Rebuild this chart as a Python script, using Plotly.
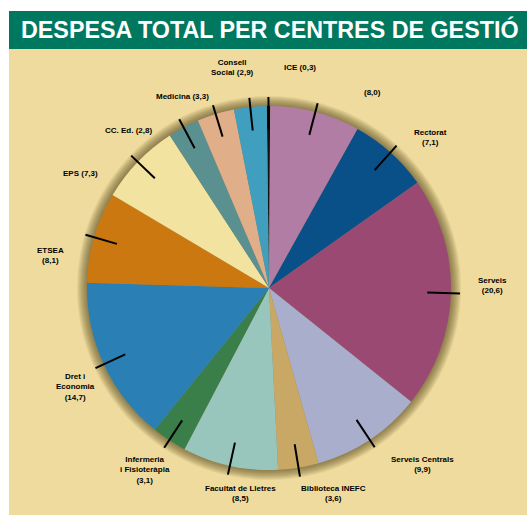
import math
import plotly.graph_objects as go

# ---------------- data ----------------
centres = ["ICE", "Rectorat", "Gerència", "Serveis Centrals", "Biblioteca",
           "INEFC", "Facultat de Lletres", "Infermeria",
           "Facultat de Dret i Economia", "ETSEA", "EPS", "Ciències Educació",
           "Medicina", "Consell Social"]
share = [0.3, 8.0, 7.1, 20.6, 9.9, 3.6, 8.5, 3.1, 14.7, 8.1, 7.3, 2.8, 3.3, 2.9]
label_lines = [
    ["ICE (0,3)"],
    ["(8,0)"],
    ["Rectorat", "(7,1)"],
    ["Serveis", "(20,6)"],
    ["Serveis Centrals", "(9,9)"],
    ["Biblioteca INEFC", "(3,6)"],
    ["Facultat de Lletres", "(8,5)"],
    ["Infermeria", "i Fisioteràpia", "(3,1)"],
    ["Dret i", "Economia", "(14,7)"],
    ["ETSEA", "(8,1)"],
    ["EPS (7,3)"],
    ["CC. Ed. (2,8)"],
    ["Medicina (3,3)"],
    ["Consell", "Social (2,9)"],
]

# ---------------- style ----------------
W, H = 527, 515
colors = ["#111111", "#B27DA5", "#0A5088", "#9A4A72", "#A8AECC", "#C8A864",
          "#98C5BC", "#3A7E4A", "#2A80B4", "#CC7810", "#F2E3A0", "#5A9090",
          "#E0AE88", "#409EBE"]
BG = "#EEDB9D"
HEADER = "#00775F"
CX, CY, R = 269, 288, 182
ROT = -0.7
# label anchor points (pixels) for the text blocks
LABEL_POS = [(300, 68), (372, 92), (430, 138), (492, 285), (422, 464),
             (333, 493), (240, 493), (145, 470), (75, 387), (50, 255),
             (80, 173), (128, 130), (182, 97), (232, 68)]


def px(x):
    return x / W


def py(y):
    return 1 - y / H


fig = go.Figure()
fig.add_trace(go.Pie(
    labels=centres, values=share, sort=False, direction="clockwise",
    rotation=ROT, marker=dict(colors=colors, line=dict(width=0)),
    textinfo="none", hoverinfo="label+percent", showlegend=False,
    domain=dict(x=[px(CX - R), px(CX + R)], y=[py(CY + R), py(CY - R)]),
))

shapes = [
    dict(type="rect", xref="paper", yref="paper", x0=px(9), x1=1, y0=0, y1=py(49),
         fillcolor=BG, line=dict(width=0), layer="below"),
    dict(type="rect", xref="paper", yref="paper", x0=px(9), x1=1, y0=py(49), y1=py(11),
         fillcolor=HEADER, line=dict(width=0), layer="below"),
]
# soft halo around the pie
for k in range(10, 0, -1):
    rr = R + k
    shapes.append(dict(type="circle", xref="paper", yref="paper",
                       x0=px(CX - rr), x1=px(CX + rr), y0=py(CY + rr), y1=py(CY - rr),
                       fillcolor="rgba(70,52,20,0.07)", line=dict(width=0),
                       layer="below"))

# leader lines at each slice's mid angle, derived from the data
total = sum(share)
cum = 0.0
for v in share:
    mid = math.radians(ROT + (cum + v / 2) / total * 360)
    cum += v
    r0, r1 = 0.87 * R, 1.05 * R
    shapes.append(dict(type="line", xref="paper", yref="paper",
                       x0=px(CX + r0 * math.sin(mid)), y0=py(CY - r0 * math.cos(mid)),
                       x1=px(CX + r1 * math.sin(mid)), y1=py(CY - r1 * math.cos(mid)),
                       line=dict(color="black", width=2)))

annotations = [dict(
    text="<b>DESPESA TOTAL PER CENTRES DE GESTIÓ</b>", xref="paper", yref="paper",
    x=px(19), y=py(30), xanchor="left", yanchor="middle", showarrow=False,
    font=dict(family="Liberation Sans, Arial", size=23.3, color="white"))]
for lines, (lx, ly) in zip(label_lines, LABEL_POS):
    annotations.append(dict(
        text="<b>" + "<br>".join(lines) + "</b>", xref="paper", yref="paper",
        x=px(lx), y=py(ly), xanchor="center", yanchor="middle", showarrow=False,
        align="center",
        font=dict(family="Liberation Sans, Arial", size=8, color="black")))

fig.update_layout(
    width=W, height=H, margin=dict(l=0, r=0, t=0, b=0),
    paper_bgcolor="white", plot_bgcolor="white",
    shapes=shapes, annotations=annotations,
)
fig.write_html("out.html", config={"displayModeBar": False},
               post_script="document.body.style.margin='0';"
                           "document.body.style.overflow='hidden';")
